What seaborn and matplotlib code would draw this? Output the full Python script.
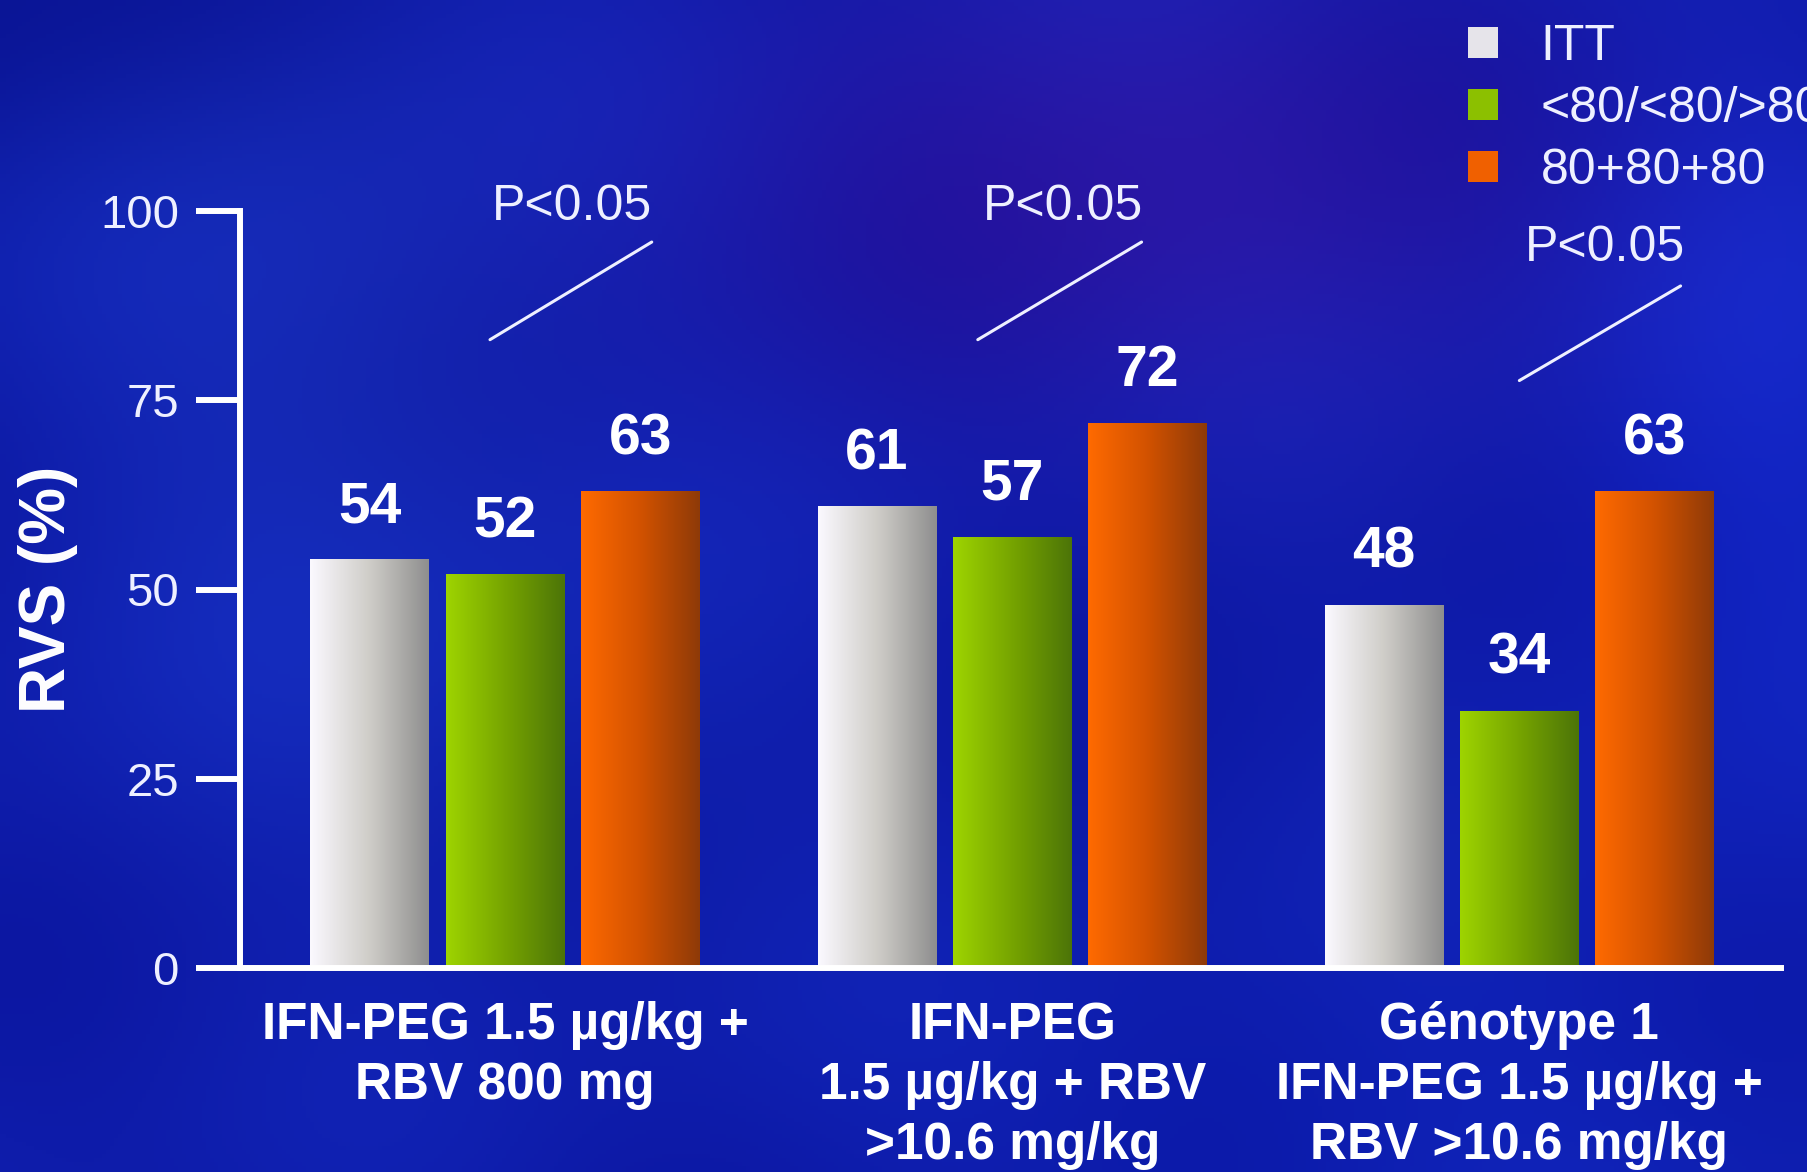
import numpy as np
import pandas as pd
import matplotlib
matplotlib.use("Agg")
import matplotlib.pyplot as plt
import seaborn as sns
from matplotlib.colors import LinearSegmentedColormap
from matplotlib.patches import Patch

# ---- data -------------------------------------------------------------
groups = [
    "IFN-PEG 1.5 µg/kg +\nRBV 800 mg",
    "IFN-PEG\n1.5 µg/kg + RBV\n>10.6 mg/kg",
    "Génotype 1\nIFN-PEG 1.5 µg/kg +\nRBV >10.6 mg/kg",
]
series = ["ITT", "<80/<80/>80", "80+80+80"]
itt = [54, 61, 48]
partial_adherence = [52, 57, 34]
full_adherence = [63, 72, 63]
p_labels = ["P<0.05", "P<0.05", "P<0.05"]
y_ticks = [0, 25, 50, 75, 100]

df = pd.DataFrame({
    "group": np.repeat(groups, 3),
    "series": series * 3,
    "value": [v for trio in zip(itt, partial_adherence, full_adherence) for v in trio],
})

# ---- style ------------------------------------------------------------
plt.rcParams["font.family"] = ["Liberation Sans", "DejaVu Sans"]
TXT = "#eef0ff"
solid = ["#e6e4ea", "#8cc000", "#f06000"]
ramps = [
    ["#fbf9ff", "#cfcdc8", "#8e8e8e"],
    ["#9ed400", "#76a400", "#4c7408"],
    ["#ff6a00", "#d25200", "#8e3a08"],
]

W, H = 1808, 1172
fig = plt.figure(figsize=(W / 100, H / 100), dpi=100)

# soft blue backdrop
bg = fig.add_axes([0, 0, 1, 1], zorder=0)
gy, gx = np.mgrid[0:H:4, 0:W:4].astype(float)
base = np.array([14, 28, 170], float)
img = np.ones(gx.shape + (3,)) * base


def blob(cx, cy, rx, ry, col, amt):
    g = np.exp(-(((gx - cx) / rx) ** 2 + ((gy - cy) / ry) ** 2))
    return g[..., None] * (np.array(col, float) - base) * amt


img += blob(1150, 180, 480, 260, [50, 22, 165], 0.75)
img += blob(300, 300, 260, 320, [28, 58, 200], 0.5)
img += blob(450, 700, 300, 250, [24, 52, 195], 0.4)
img += blob(1750, 450, 200, 400, [20, 45, 215], 0.6)
img += blob(0, 0, 300, 200, [8, 16, 140], 0.7)
img += blob(1450, 1100, 500, 200, [15, 38, 192], 0.5)
wave = (np.sin(gx / 140.0 + gy / 210.0) * np.sin(gy / 120.0 - gx / 260.0))
img += wave[..., None] * np.array([2, 5, 8])
bg.imshow(np.clip(img, 0, 255).astype(np.uint8), aspect="auto",
          interpolation="bilinear", extent=[0, 1, 0, 1])
bg.set_axis_off()

# ---- bars -------------------------------------------------------------
ax = fig.add_axes([240 / W, 1 - 968 / H, 1541 / W, (968 - 211) / H], zorder=1)
ax.patch.set_alpha(0)

sns.barplot(data=df, x="group", y="value", hue="series", palette=solid,
            width=0.8, gap=0.12, ax=ax, legend=False, saturation=1)

xlim = (-0.523, 2.516)
for container, ramp in zip(ax.containers, ramps):
    cmap = LinearSegmentedColormap.from_list("ramp", ramp)
    for bar in container:
        x0, y0 = bar.get_x(), bar.get_y()
        w, h = bar.get_width(), bar.get_height()
        im = ax.imshow(np.linspace(0, 1, 256)[None, :], cmap=cmap,
                       extent=[x0, x0 + w, y0, y0 + h], aspect="auto",
                       interpolation="bicubic", zorder=bar.get_zorder() + 0.1)
        im.set_clip_path(bar)
    ax.bar_label(container, fmt="%d", padding=18, fontsize=41,
                 fontweight="bold", color="white")

ax.set_xlim(*xlim)
ax.set_ylim(0, 100)

# ---- axes -------------------------------------------------------------
for side in ("top", "right"):
    ax.spines[side].set_visible(False)
for side in ("left", "bottom"):
    ax.spines[side].set_color("white")
    ax.spines[side].set_linewidth(4.3)
    ax.spines[side].set_zorder(5)
ax.set_yticks(y_ticks)
ax.tick_params(axis="y", length=32, width=4.3, color="white", pad=12,
               labelsize=34, labelcolor=TXT)
ax.tick_params(axis="x", length=0, pad=24, labelsize=37, labelcolor="white")
for lab in ax.get_xticklabels():
    lab.set_fontweight("bold")
    lab.set_linespacing(1.28)
ax.set_xlabel("")
ax.set_ylabel("RVS (%)", fontsize=46, fontweight="bold", color="white")
ax.yaxis.set_label_coords(-0.105, 0.5)

# ---- significance marks -----------------------------------------------
p_text_xy = [(0.132, 100.5), (1.10, 100.5), (2.168, 95.1)]
p_slash = [((-0.03, 0.289), (83.0, 95.9)),
           ((-0.068, 0.255), (83.0, 95.9)),
           ((0.0, 0.318), (77.6, 90.1))]
for i, (lbl, (tx, ty), (sx, sy)) in enumerate(zip(p_labels, p_text_xy, p_slash)):
    ax.text(tx, ty, lbl, ha="center", va="center", fontsize=36,
            color=TXT, clip_on=False)
    ax.plot([i + sx[0], i + sx[1]], sy, color=TXT, lw=2.2,
            solid_capstyle="round", clip_on=False)

# ---- legend -----------------------------------------------------------
handles = [Patch(facecolor=c, edgecolor="none") for c in solid]
fig.legend(handles, series, loc="upper left",
           bbox_to_anchor=(1468 / W, 1 - 24 / H), frameon=False,
           fontsize=36, labelcolor=TXT, handlelength=0.6, handleheight=0.6,
           handletextpad=0.85, labelspacing=0.32, borderpad=0,
           borderaxespad=0)

fig.savefig("out.png", dpi=100)
